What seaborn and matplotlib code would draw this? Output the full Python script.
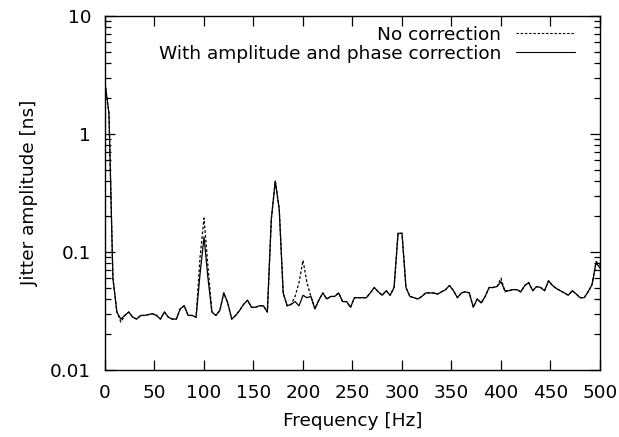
import numpy as np
import pandas as pd
import matplotlib
matplotlib.use("Agg")
import matplotlib.pyplot as plt
from matplotlib.ticker import LogLocator, FixedLocator, FuncFormatter, NullFormatter
import seaborn as sns

freq = np.arange(0, 501, 4)

with_correction = [
    2.7, 1.5, 0.06, 0.031, 0.027, 0.029, 0.031, 0.028, 0.027, 0.029,
    0.029, 0.0295, 0.030, 0.029, 0.027, 0.031, 0.028, 0.027, 0.027, 0.033,
    0.035, 0.029, 0.029, 0.028, 0.065, 0.134, 0.06, 0.031, 0.029, 0.032,
    0.045, 0.037, 0.027, 0.029, 0.032, 0.036, 0.039, 0.034, 0.034, 0.035,
    0.035, 0.031, 0.19, 0.40, 0.23, 0.045, 0.035, 0.036, 0.038, 0.035,
    0.043, 0.041, 0.042, 0.033, 0.039, 0.045, 0.040, 0.042, 0.042, 0.045,
    0.038, 0.038, 0.034, 0.041, 0.041, 0.041, 0.041, 0.045, 0.050, 0.046,
    0.043, 0.047, 0.043, 0.050, 0.144, 0.144, 0.050, 0.042, 0.041, 0.040,
    0.042, 0.045, 0.045, 0.045, 0.044, 0.046, 0.048, 0.052, 0.047, 0.041,
    0.045, 0.046, 0.045, 0.034, 0.040, 0.037, 0.042, 0.050, 0.050, 0.051,
    0.056, 0.047, 0.047, 0.048, 0.048, 0.046, 0.052, 0.055, 0.047, 0.051,
    0.050, 0.047, 0.057, 0.052, 0.049, 0.047, 0.045, 0.043, 0.047, 0.044,
    0.041, 0.041, 0.046, 0.053, 0.081, 0.073,
]

# "No correction" differs from the corrected curve only at these frequencies
no_correction_diff = {
    16: 0.0255, 96: 0.09, 100: 0.194, 104: 0.075,
    192: 0.042, 196: 0.055, 200: 0.085, 204: 0.055, 208: 0.042,
    400: 0.06, 404: 0.046, 496: 0.083, 500: 0.077,
}
no_correction = [no_correction_diff.get(int(f), v) for f, v in zip(freq, with_correction)]

labels = ["No correction", "With amplitude and phase correction"]
x_ticks = [0, 50, 100, 150, 200, 250, 300, 350, 400, 450, 500]
y_ticks = [0.01, 0.1, 1, 10]
y_tick_labels = ["0.01", "0.1", "1", "10"]

assert len(with_correction) == len(freq)

df = pd.concat([
    pd.DataFrame({"Frequency": freq, "Jitter": no_correction, "Series": labels[0]}),
    pd.DataFrame({"Frequency": freq, "Jitter": with_correction, "Series": labels[1]}),
])

sns.set_style("ticks")
plt.rcParams["font.family"] = ["DejaVu Sans"]
plt.rcParams["text.color"] = "black"
plt.rcParams["axes.labelcolor"] = "black"
plt.rcParams["xtick.color"] = "black"
plt.rcParams["ytick.color"] = "black"
FS = 13.3

fig = plt.figure(figsize=(6.19, 4.37), dpi=100)
ax = fig.add_axes([105 / 619, 1 - 370 / 437, 495 / 619, 354 / 437])

sns.lineplot(data=df, x="Frequency", y="Jitter", style="Series", hue="Series",
             palette={labels[0]: "black", labels[1]: "black"},
             dashes={labels[0]: (2.2, 1.6), labels[1]: ""},
             style_order=labels, hue_order=labels,
             linewidth=0.9, legend=False, ax=ax)

ax.set_yscale("log")
ax.set_xlim(0, 500)
ax.set_ylim(0.01, 10)
ax.xaxis.set_major_locator(FixedLocator(x_ticks))
ax.yaxis.set_major_locator(FixedLocator(y_ticks))
ax.yaxis.set_major_formatter(FuncFormatter(lambda v, p: y_tick_labels[y_ticks.index(v)] if v in y_ticks else ""))
ax.yaxis.set_minor_locator(LogLocator(base=10, subs=np.arange(2, 10)))
ax.yaxis.set_minor_formatter(NullFormatter())

ax.tick_params(which="both", direction="in", top=True, right=True, colors="black",
               labelcolor="black", labelsize=FS, width=0.9)
ax.tick_params(which="major", length=7)
ax.tick_params(which="minor", length=4)
ax.tick_params(axis="x", pad=10)
ax.tick_params(axis="y", pad=10)
for s in ax.spines.values():
    s.set_visible(True)
    s.set_linewidth(1.0)
    s.set_color("black")

ax.set_xlabel("Frequency [Hz]", fontsize=FS, labelpad=7, color="black")
ax.set_ylabel("Jitter amplitude [ns]", fontsize=FS, labelpad=8, color="black")

handles = ax.get_lines()[:2]
leg = ax.legend(handles, labels, loc="upper right", bbox_to_anchor=(0.9495, 0.972),
                frameon=False, markerfirst=False, fontsize=FS, handlelength=3.2,
                handletextpad=0.8, borderpad=0, borderaxespad=0, labelspacing=0.05,
                labelcolor="black")
for h in leg.get_lines():
    h.set_linewidth(0.8)

fig.savefig("out.png", dpi=100)
